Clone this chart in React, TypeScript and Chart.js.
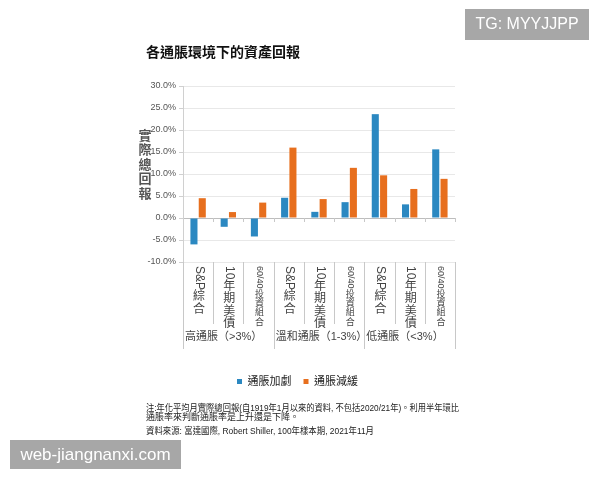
import React, { useEffect, useRef } from 'react';
import { Chart, registerables } from 'chart.js';

Chart.register(...registerables);

const chartTitle = '各通脹環境下的資產回報';
const categories = [
  'S&P綜合', '10年期美債', '60/40投資組合',
  'S&P綜合', '10年期美債', '60/40投資組合',
  'S&P綜合', '10年期美債', '60/40投資組合',
];
const groups = ['高通脹（>3%）', '溫和通脹（1-3%）', '低通脹（<3%）'];
const seriesNames = ['通脹加劇', '通脹減緩'];
const risingValues = [-6.0, -2.0, -4.2, 4.6, 1.4, 3.6, 23.6, 3.1, 15.6];
const fallingValues = [4.5, 1.35, 3.5, 16.0, 4.3, 11.4, 9.7, 6.6, 8.9];
const yMin = -10;
const yMax = 30;
const yStep = 5;
const yTitle = '實際總回報';
const noteLines = [
  '注:年化平均月實際總回報(自1919年1月以來的資料, 不包括2020/21年)。利用半年環比',
  '通脹率來判斷通脹率是上升還是下降。',
];
const sourceLine = '資料來源: 富達國際, Robert Shiller, 100年樣本期, 2021年11月';
const watermarkTop = 'TG: MYYJJPP';
const watermarkBottom = 'web-jiangnanxi.com';

const FONT = '"Liberation Sans", "Noto Sans CJK TC", Arial, sans-serif';
const BLUE = '#2B88C1';
const ORANGE = '#E76F1E';

function drawVertical(ctx: CanvasRenderingContext2D, text: string, cx: number, y0: number, size: number) {
  const runs = text.match(/[\x00-\x7F]+|[^\x00-\x7F]/g) || [];
  let y = y0;
  ctx.font = `${size}px ${FONT}`;
  for (const run of runs) {
    if (/^[\x00-\x7F]+$/.test(run)) {
      const w = ctx.measureText(run).width;
      ctx.save();
      ctx.translate(cx, y);
      ctx.rotate(Math.PI / 2);
      ctx.textAlign = 'left';
      ctx.textBaseline = 'middle';
      ctx.fillText(run, 0, 0);
      ctx.restore();
      y += w + 1;
    } else {
      ctx.textAlign = 'center';
      ctx.textBaseline = 'top';
      ctx.fillText(run, cx, y);
      y += size * 1.04;
    }
  }
}

const overlayPlugin = {
  id: 'overlay',
  afterDraw(chart: any) {
    const ctx: CanvasRenderingContext2D = chart.ctx;
    const x = chart.scales.x;
    const y = chart.scales.y;
    const area = chart.chartArea;
    ctx.save();

    // title
    ctx.fillStyle = '#111';
    ctx.font = `bold 14px ${FONT}`;
    ctx.textAlign = 'left';
    ctx.textBaseline = 'middle';
    ctx.fillText(chartTitle, 146, 53);

    // y title, vertical upright
    ctx.fillStyle = '#555';
    ctx.font = `bold 13px ${FONT}`;
    ctx.textAlign = 'center';
    ctx.textBaseline = 'middle';
    for (let i = 0; i < yTitle.length; i++) {
      ctx.fillText(yTitle[i], 145, 136 + i * 14.5);
    }

    // boundaries
    const n = categories.length;
    const bounds: number[] = [];
    for (let i = 0; i <= n; i++) {
      if (i === 0) bounds.push(area.left);
      else if (i === n) bounds.push(area.right);
      else bounds.push((x.getPixelForValue(i - 1) + x.getPixelForValue(i)) / 2);
    }
    const zeroY = y.getPixelForValue(0);
    ctx.strokeStyle = '#c8c8c8';
    ctx.lineWidth = 1;
    for (let i = 0; i <= n; i++) {
      const bx = Math.round(bounds[i]) + 0.5;
      const len = i % 3 === 0 ? 87 : 62;
      ctx.beginPath();
      ctx.moveTo(bx, area.bottom);
      ctx.lineTo(bx, area.bottom + len);
      ctx.stroke();
      if (i > 0) {
        ctx.beginPath();
        ctx.moveTo(bx, zeroY);
        ctx.lineTo(bx, zeroY + 4);
        ctx.stroke();
      }
    }

    // category labels (vertical)
    ctx.fillStyle = '#444';
    for (let i = 0; i < n; i++) {
      const cx = x.getPixelForValue(i) + 1;
      const label = categories[i];
      const size = label.length > 6 ? 9 : 12;
      drawVertical(ctx, label, cx, area.bottom + 4, size);
    }

    // group labels
    ctx.fillStyle = '#444';
    ctx.font = `11px ${FONT}`;
    ctx.textAlign = 'left';
    ctx.textBaseline = 'middle';
    for (let g = 0; g < groups.length; g++) {
      ctx.fillText(groups[g], bounds[g * 3] + 2, area.bottom + 75);
    }

    // notes
    ctx.fillStyle = '#222';
    ctx.font = `9px ${FONT}`;
    ctx.textAlign = 'left';
    ctx.textBaseline = 'middle';
    ctx.fillText(noteLines[0], 146, 409, 313);
    ctx.fillText(noteLines[1], 146, 418);
    ctx.fillText(sourceLine, 146, 432, 228);

    // watermarks
    ctx.fillStyle = '#a7a7a7';
    ctx.fillRect(465, 9, 124, 31);
    ctx.fillRect(10, 440, 171, 29);
    ctx.fillStyle = '#ffffff';
    ctx.textAlign = 'center';
    ctx.textBaseline = 'middle';
    ctx.font = `16px ${FONT}`;
    ctx.fillText(watermarkTop, 527, 25);
    ctx.font = `17px ${FONT}`;
    ctx.fillText(watermarkBottom, 95.5, 455);

    ctx.restore();
  },
};

export default function App() {
  const ref = useRef<HTMLCanvasElement>(null);
  useEffect(() => {
    if (!ref.current) return;
    const chart = new Chart(ref.current, {
      type: 'bar',
      data: {
        labels: categories,
        datasets: [
          { label: seriesNames[0], data: risingValues, backgroundColor: BLUE, categoryPercentage: 0.55, barPercentage: 0.85 },
          { label: seriesNames[1], data: fallingValues, backgroundColor: ORANGE, categoryPercentage: 0.55, barPercentage: 0.85 },
        ],
      },
      options: {
        responsive: false,
        animation: false,
        layout: { padding: { left: 140, right: 145, top: 86, bottom: 83 } },
        plugins: {
          title: { display: false },
          tooltip: { enabled: false },
          legend: {
            display: true,
            position: 'bottom',
            labels: {
              boxWidth: 5,
              boxHeight: 5,
              padding: 12,
              color: '#222',
              font: { size: 11, family: FONT },
            },
          },
        },
        scales: {
          x: {
            grid: { display: false },
            border: { display: false },
            ticks: { display: false },
            afterFit: (s: any) => { s.height = 102; },
          },
          y: {
            min: yMin,
            max: yMax,
            ticks: {
              stepSize: yStep,
              color: '#555',
              padding: 3,
              font: { size: 9, family: FONT },
              callback: (v: any) => Number(v).toFixed(1) + '%',
            },
            grid: {
              color: (c: any) => (c.tick && c.tick.value === 0 ? '#bdbdbd' : '#e8e8e8'),
              tickLength: 4,
              tickColor: '#d0d0d0',
            },
            border: { display: true, color: '#d0d0d0' },
            afterFit: (s: any) => { s.width = 43; },
          },
        },
      },
      plugins: [overlayPlugin],
    });
    return () => chart.destroy();
  }, []);
  return (
    <div style={{ position: 'fixed', left: 0, top: 0, width: 600, height: 480, background: '#fff' }}>
      <canvas ref={ref} width={600} height={480} style={{ display: 'block' }} />
    </div>
  );
}
